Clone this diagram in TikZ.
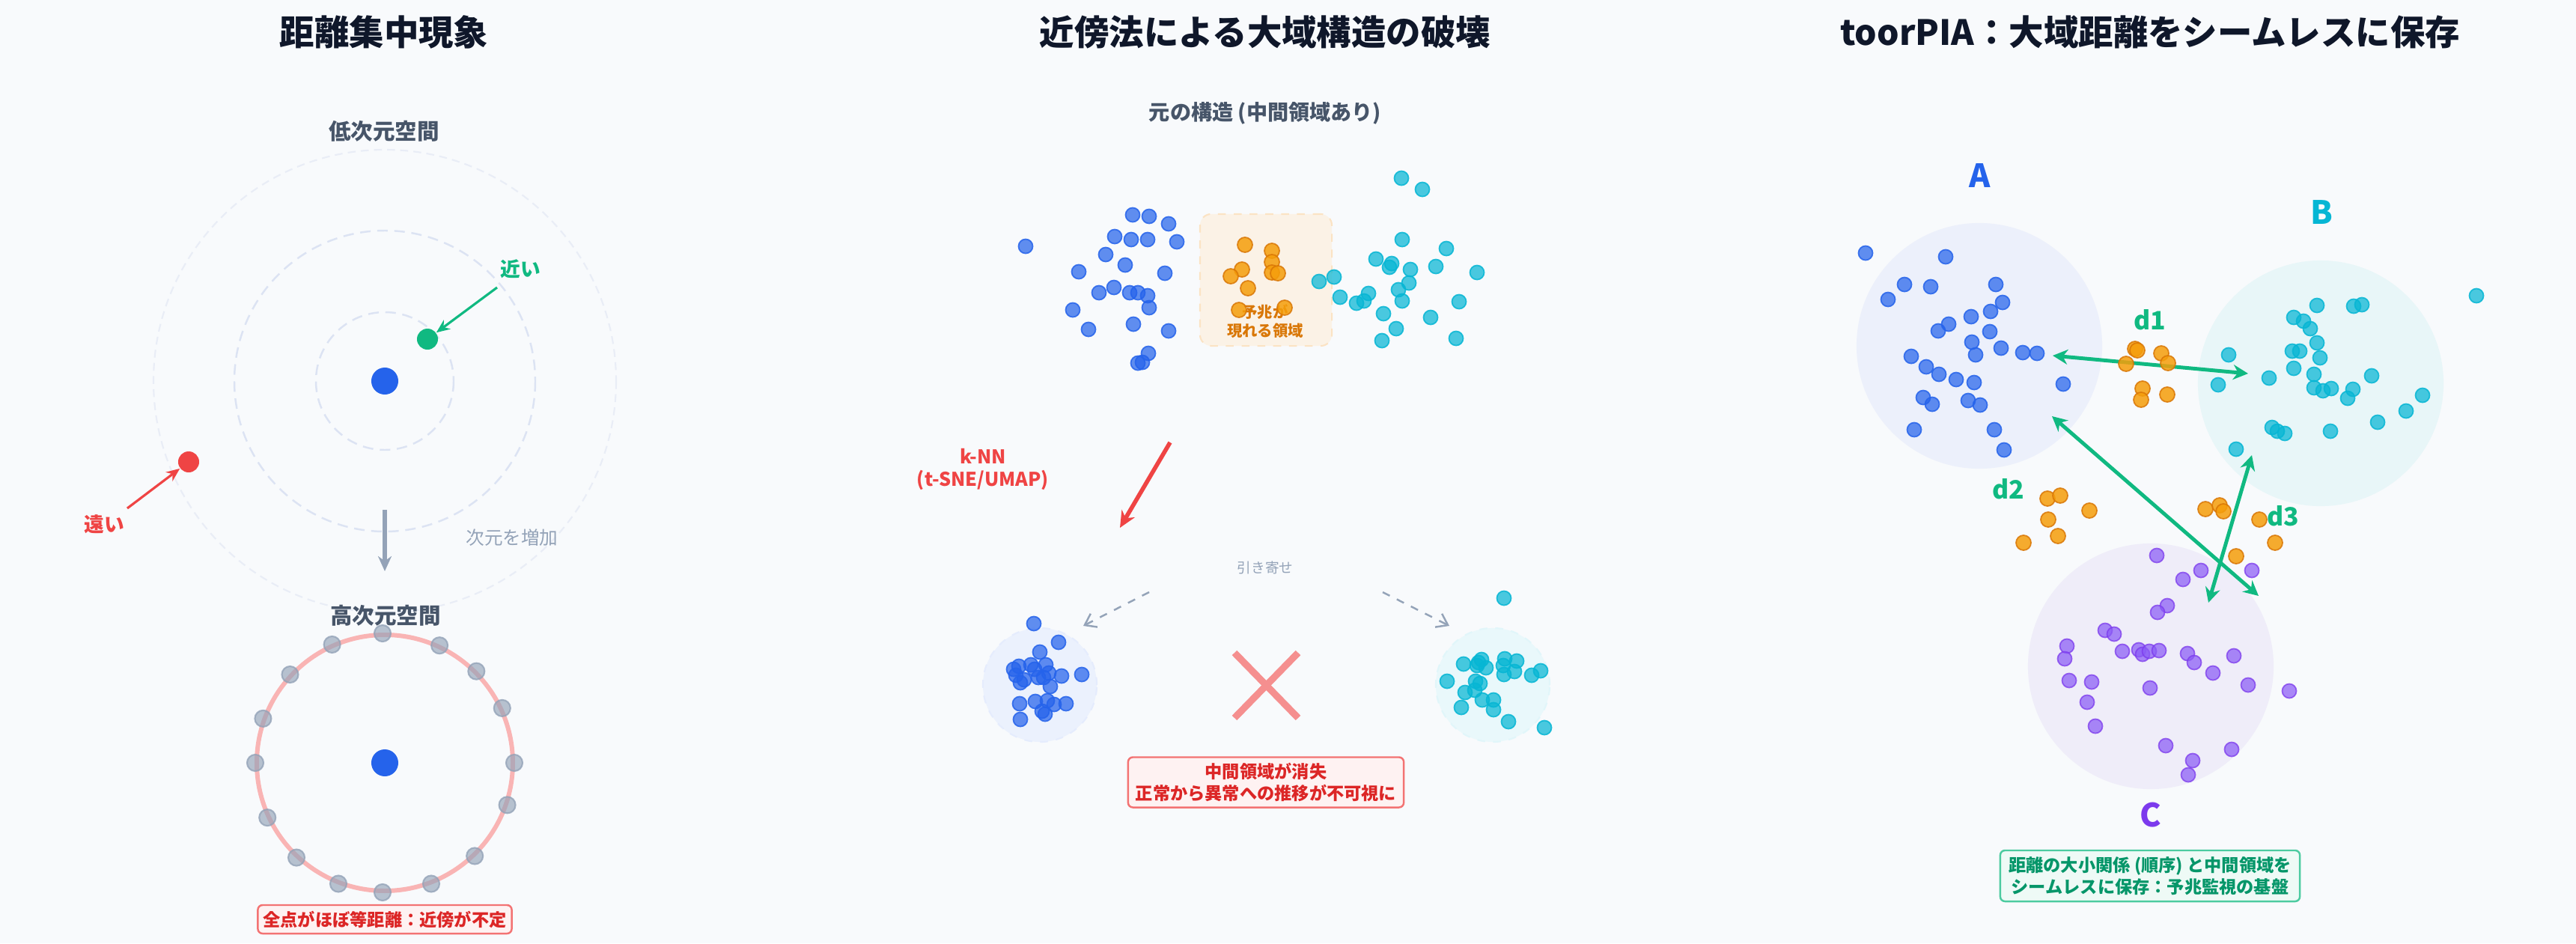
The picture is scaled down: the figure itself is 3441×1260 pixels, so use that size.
\documentclass[tikz,border=0pt]{standalone}
\usepackage{fontspec}
\setmainfont{Noto Sans CJK JP}
\usetikzlibrary{arrows.meta, positioning}
\definecolor{bgpage}{HTML}{F8FAFC}
\definecolor{ink}{HTML}{0F172A}
\definecolor{slate}{HTML}{475569}
\definecolor{muted}{HTML}{94A3B8}
\definecolor{guideln}{HTML}{DCE3F3}
\definecolor{guidefaint}{HTML}{E9EDF6}
\definecolor{cblue}{HTML}{2563EB}
\definecolor{ccyan}{HTML}{06B6D4}
\definecolor{corange}{HTML}{F59E0B}
\definecolor{cdorange}{HTML}{D97706}
\definecolor{cpurple}{HTML}{8B5CF6}
\definecolor{cdpurple}{HTML}{7C3AED}
\definecolor{cgreen}{HTML}{10B981}
\definecolor{cdgreen}{HTML}{059669}
\definecolor{cred}{HTML}{EF4444}
\definecolor{cdred}{HTML}{DC2626}
\definecolor{fillA}{HTML}{ECF0FB}
\definecolor{fillB}{HTML}{E8F6F8}
\definecolor{fillC}{HTML}{EFEDF9}
\definecolor{zonefill}{HTML}{FBF2E6}
\definecolor{zoneline}{HTML}{FBE3C4}

\begin{document}
\begin{tikzpicture}[x=0.01cm, y=-0.01cm,
    every node/.style={text=ink},
    ttl/.style={font=\fontsize{13.2}{16}\selectfont\bfseries},
    sub/.style={font=\fontsize{8.4}{10}\selectfont\bfseries, text=slate},
    tag/.style={font=\fontsize{7.6}{9}\selectfont\bfseries},
    note/.style={font=\fontsize{7}{8.5}\selectfont, text=muted},
    letter/.style={font=\fontsize{12.2}{14}\selectfont\bfseries},
    dlbl/.style={font=\fontsize{9.6}{11}\selectfont\bfseries, text=cgreen},
    msgbox/.style={draw, rounded corners=1.8pt, line width=0.7pt, align=center, inner sep=0pt,
                   font=\fontsize{6.6}{8.1}\selectfont\bfseries},
    dot/.style={circle, inner sep=0pt},
    guide/.style={draw=guideln, line width=0.7pt, dash pattern=on 4pt off 2.5pt},
    bpt/.style={fill=cblue, fill opacity=0.72, draw=cblue, draw opacity=0.85, line width=0.5pt},
    cpt/.style={fill=ccyan, fill opacity=0.72, draw=ccyan, draw opacity=0.85, line width=0.5pt},
    opt/.style={fill=corange, fill opacity=0.85, draw=cdorange, draw opacity=0.85, line width=0.5pt},
    ppt/.style={fill=cpurple, fill opacity=0.72, draw=cdpurple, draw opacity=0.75, line width=0.5pt},
    gpt/.style={fill=muted, fill opacity=0.65, draw=muted, draw opacity=0.8, line width=0.6pt},
    thinarr/.style={-{Stealth[length=1.8mm, width=1.5mm]}, line width=0.9pt},
    garr/.style={{Stealth[length=2mm, width=2mm]}-{Stealth[length=2mm, width=2mm]}, line width=1.4pt, draw=cgreen}
  ]
  \fill[bgpage] (0,0) rectangle (3441,1260);
  \useasboundingbox (0,0) rectangle (3441,1260);

  \node[ttl] (t1) at (513,43) {距離集中現象};
  \node[sub] (lowsp) at (513,175) {低次元空間};
  \node[dot, fill=cblue, minimum size=0.36cm] (c1) at (514,509) {};
  \draw[guide] (c1.center) circle[radius=92];
  \draw[guide] (c1.center) circle[radius=201];
  \draw[draw=guidefaint, line width=0.6pt, dash pattern=on 3pt off 2pt] (c1.center) circle[radius=309];
  \node[dot, fill=cgreen, minimum size=0.28cm] (gdot) at (571,453) {};
  \node[dot, fill=cred, minimum size=0.28cm] (rdot) at (252,617) {};
  \node[tag, text=cgreen] (near) at (695,359) {近い};
  \node[tag, text=cred] (far) at (139,700) {遠い};
  \coordinate (nearS) at (664,384);
  \coordinate (farS) at (170,679);
  \draw[thinarr, draw=cgreen] (nearS) -- (gdot);
  \draw[thinarr, draw=cred] (farS) -- (rdot);
  \coordinate (dimS) at (514,681);
  \coordinate (dimE) at (514,763);
  \draw[-{Stealth[length=2mm, width=1.8mm]}, line width=1.6pt, draw=muted] (dimS) -- (dimE);
  \node[note] (incr) at (684,718) {次元を増加};
  \node[sub] (highsp) at (515,822) {高次元空間};
  \node[dot, fill=cblue, minimum size=0.36cm] (c2) at (514,1019) {};
  \draw[draw=cred!40, line width=1.7pt] (c2.center) circle[radius=171];
  \foreach \a in {91,65,45,25,0,-19,-46,-69,-91,-111,-133,-155,180,160,137,114}
    \filldraw[gpt] ({514+173*cos(\a)},{1019-173*sin(\a)}) circle[radius=11];
  \node[msgbox, draw=cred!75, fill=cred!7, text=cdred, minimum width=3.39cm, minimum height=0.38cm] (flat) at (514,1228)
    {全点がほぼ等距離：近傍が不定};

  \node[ttl] (t2) at (1690,43) {近傍法による大域構造の破壊};
  \node[sub, font=\fontsize{8}{10}\selectfont\bfseries] (orig) at (1690,151) {元の構造 (中間領域あり)};
  \node[draw=zoneline, fill=zonefill, dashed, line width=0.6pt, rounded corners=0.15cm,
        minimum width=1.76cm, minimum height=1.76cm] (zone) at (1691,374) {};
  \node[align=center, text=cdorange, font=\fontsize{5.8}{7.1}\selectfont\bfseries] (omen) at (1690,429) {予兆が\\現れる領域};
  \foreach \x/\y in {1370/329,1513/287,1535/289,1561/299,1489/316,1511/320,1533/320,1572/323,1477/340,
      1503/354,1441/363,1556/365,1488/384,1468/391,1509/391,1520/391,1533/395,1433/414,1535/411,
      1454/440,1514/433,1561/442,1534/472,1520/485,1526/484}
    \filldraw[bpt] (\x,\y) circle[radius=9.5];
  \foreach \x/\y in {1663/327,1699/335,1699/350,1659/360,1644/369,1699/364,1707/365,1667/385,1655/414,1716/411}
    \filldraw[opt] (\x,\y) circle[radius=10];
  \foreach \x/\y in {1872/238,1900/253,1873/320,1932/332,1838/346,1859/352,1856/357,1884/360,1918/356,
      1973/364,1782/370,1762/376,1882/378,1868/387,1828/392,1790/397,1822/402,1812/405,1873/402,
      1949/403,1848/419,1911/424,1865/439,1846/455,1945/452}
    \filldraw[cpt] (\x,\y) circle[radius=9.5];
  \node[align=center, text=cred, font=\fontsize{7.2}{8.3}\selectfont\bfseries] (knn) at (1313,627) {k-NN\\(t-SNE/UMAP)};
  \coordinate (kS) at (1563,591);
  \coordinate (kE) at (1496,705);
  \draw[-{Stealth[length=2.2mm, width=2mm]}, line width=1.6pt, draw=cred] (kS) -- (kE);
  \node[note, font=\fontsize{5.3}{6.5}\selectfont] (pull) at (1690,758) {引き寄せ};
  \node[dot, fill=cblue!9, draw=cblue!12, dashed, line width=0.6pt, minimum size=1.52cm] (lclu) at (1389,915) {};
  \node[dot, fill=ccyan!9, draw=ccyan!12, dashed, line width=0.6pt, minimum size=1.52cm] (rclu) at (1994,915) {};
  \coordinate (pLS) at (1535,791);
  \coordinate (pLE) at (1447,836);
  \coordinate (pRS) at (1847,791);
  \coordinate (pRE) at (1936,836);
  \draw[-{Straight Barb[length=1.4mm, width=2mm]}, dashed, line width=0.7pt, draw=muted] (pLS) -- (pLE);
  \draw[-{Straight Barb[length=1.4mm, width=2mm]}, dashed, line width=0.7pt, draw=muted] (pRS) -- (pRE);
  \foreach \x/\y in {1381/833,1414/858,1389/871,1354/894,1361/890,1377/888,1397/888,1382/894,1401/899,
      1387/905,1394/905,1418/903,1445/901,1368/908,1363/912,1403/917,1362/940,1383/937,1399/936,
      1408/941,1424/940,1392/950,1396/954,1363/961,1357/902}
    \filldraw[bpt] (\x,\y) circle[radius=9.5];
  \foreach \x/\y in {2009/799,1955/887,1979/881,1973/889,1985/892,2010/880,2008/889,2026/883,2023/897,
      2009/901,2058/896,2046/902,1933/910,1971/910,1977/913,1970/922,1957/925,1980/935,1995/935,
      1952/945,1995/948,2015/964,2063/972,1975/885}
    \filldraw[cpt] (\x,\y) circle[radius=9.5];
  \draw[draw=cred!60, line width=2.6pt] (1649,872) -- (1734,959);
  \draw[draw=cred!60, line width=2.6pt] (1734,872) -- (1649,959);
  \node[msgbox, draw=cred!75, fill=cred!7, text=cdred, minimum width=3.68cm, minimum height=0.67cm] (lost) at (1691,1045)
    {中間領域が消失\\正常から異常への推移が不可視に};

  \node[ttl] (t3) at (2872,43) {toorPIA：大域距離をシームレスに保存};
  \node[dot, fill=fillA, minimum size=3.28cm] (ca) at (2644,462) {};
  \node[dot, fill=fillB, minimum size=3.28cm] (cb) at (3100,512) {};
  \node[dot, fill=fillC, minimum size=3.28cm] (cc) at (2873,890) {};
  \node[letter, text=cblue] (la) at (2645,235) {A};
  \node[letter, text=ccyan] (lb) at (3101,284) {B};
  \node[letter, text=cdpurple] (lc) at (2873,1089) {C};
  \node[dlbl] (d1) at (2872,427) {d1};
  \node[dlbl] (d2) at (2683,653) {d2};
  \node[dlbl] (d3) at (3050,689) {d3};
  \coordinate (a1) at (2742,475);
  \coordinate (b1) at (3003,499);
  \coordinate (a2) at (2741,556);
  \coordinate (c2e) at (3017,796);
  \coordinate (b3) at (3008,608);
  \coordinate (c3) at (2950,805);
  \draw[garr] (a1) -- (b1);
  \draw[garr] (a2) -- (c2e);
  \draw[garr] (b3) -- (c3);
  \foreach \x/\y in {2492/338,2599/343,2544/380,2579/383,2666/380,2522/400,2675/404,2659/416,2633/423,
      2603/433,2589/442,2658/443,2634/457,2553/476,2639/474,2673/465,2702/471,2721/472,2573/490,
      2590/500,2613/507,2637/511,2756/513,2569/531,2581/540,2629/535,2645/541,2557/574,2664/574,2677/601}
    \filldraw[bpt] (\x,\y) circle[radius=9.5];
  \foreach \x/\y in {3095/408,3144/409,3155/407,3064/424,3077/429,3086/439,3095/458,3062/469,3072/469,
      3099/478,2977/474,3064/492,3091/500,3031/505,2963/514,3168/502,3091/518,3103/522,3114/519,
      3143/520,3136/532,3236/528,3214/549,3176/564,3113/576,3035/571,3042/576,3052/579,2987/600,3308/395}
    \filldraw[cpt] (\x,\y) circle[radius=9.5];
  \foreach \x/\y in {2881/742,2940/762,2916/774,3008/762,2895/809,2882/818,2812/842,2824/847,2761/863,
      2758/880,2835/870,2857/868,2862/874,2871/870,2884/869,2922/873,2931/885,2984/876,2956/899,
      2764/909,2794/911,2872/919,3003/915,3058/923,2788/938,2799/970,2893/996,2981/1001,2929/1016,2923/1035}
    \filldraw[ppt] (\x,\y) circle[radius=9.5];
  \foreach \x/\y in {2852/466,2855/468,2887/472,2896/485,2840/486,2862/519,2860/534,2895/527,
      2735/666,2752/662,2791/682,2736/694,2749/716,2703/725,
      2946/680,2965/675,2970/683,3018/694,3039/725,2987/743}
    \filldraw[opt] (\x,\y) circle[radius=10];
  \node[msgbox, draw=cgreen!75, fill=cgreen!7, text=cdgreen, minimum width=4cm, minimum height=0.68cm] (keep) at (2872,1170)
    {距離の大小関係 (順序) と中間領域を\\シームレスに保存：予兆監視の基盤};
\end{tikzpicture}
\end{document}
